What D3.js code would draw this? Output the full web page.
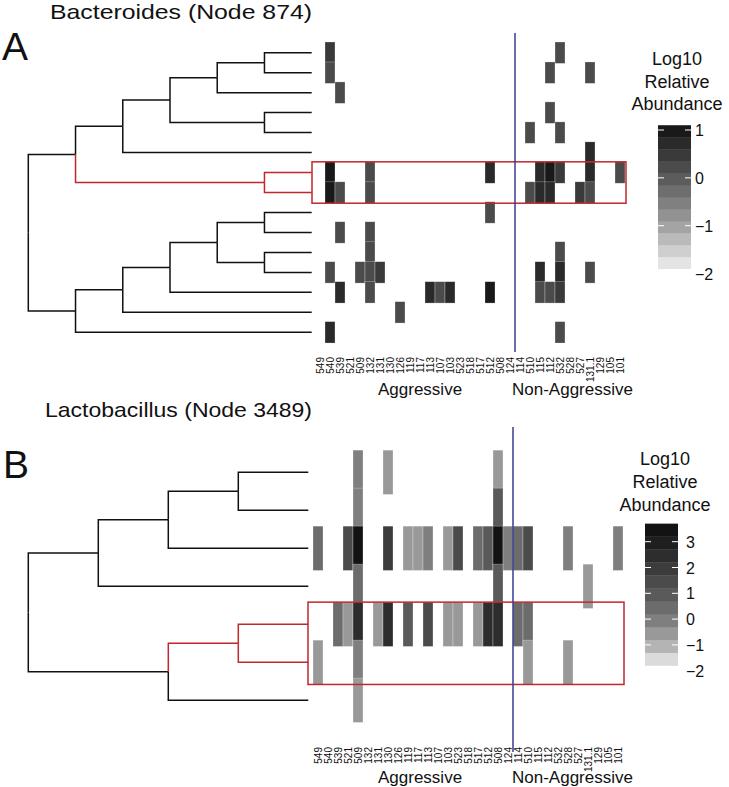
<!DOCTYPE html>
<html>
<head>
<meta charset="utf-8">
<script src="https://cdn.jsdelivr.net/npm/d3@7"></script>
<style>
  body { margin: 0; background: #fff; }
  text { font-family: "Liberation Sans", Arial, Helvetica, sans-serif; fill: #111; }
</style>
</head>
<body>
<div id="chart"></div>
<script>
// sample columns, left to right
var samples = ["549","540","539","521","509","132","131","130","126","119","117","113","107","103",
    "523","518","517","512","508","124","114","510","115","112","532","528","527","131.1","129","105","101"];
var groupLabels = ["Aggressive", "Non-Aggressive"];
var firstNonAggressive = "114";

// dendrograms: leaves are row numbers, top to bottom
var bactTree = [[[[[[1,2],3],[4,5]],6],[7,8]],[[[[[9,10],[11,12]],13],14],15]];
var bactHighlight = [7, 8];
// [row, sample, log10 relative abundance]
var bactCells = [
    [1,"540",0.5],[1,"532",0.3],
    [2,"540",0.2],[2,"112",0.3],[2,"131.1",0.3],
    [3,"539",0.3],
    [4,"112",0.3],
    [5,"510",0.3],[5,"532",0.3],
    [6,"131.1",0.8],
    [7,"540",1.0],[7,"132",0.3],[7,"512",0.8],[7,"115",0.8],[7,"112",0.9],[7,"532",0.5],[7,"131.1",0.8],[7,"101",0.2],
    [8,"540",0.9],[8,"539",0.3],[8,"132",0.3],[8,"510",0.3],[8,"115",0.8],[8,"112",0.6],[8,"527",0.5],[8,"131.1",0.2],
    [9,"512",0.3],
    [10,"539",0.3],[10,"132",0.3],
    [11,"132",0.3],[11,"532",0.3],
    [12,"540",0.3],[12,"509",0.3],[12,"132",0.2],[12,"131",0.5],[12,"115",0.8],[12,"532",0.6],[12,"131.1",0.3],
    [13,"539",0.8],[13,"132",0.3],[13,"113",0.8],[13,"107",0.3],[13,"103",0.6],[13,"512",0.9],[13,"115",0.3],[13,"112",0.2],[13,"532",0.5],
    [14,"126",0.3],
    [15,"540",0.6],[15,"532",0.3]
];
var bactTicks = [1, 0, -1, -2];

var lactoTree = [[[[1,2],3],4],[[5,6],7]];
var lactoHighlight = [5, 6];
var lactoCells = [
    [1,"509",0],[1,"130",-0.5],[1,"508",-0.5],
    [2,"509",0],[2,"508",0.8],
    [3,"549",0.5],[3,"521",1.5],[3,"509",3.5],[3,"130",1.8],[3,"119",-0.3],[3,"117",-0.3],[3,"113",0],
    [3,"103",-0.5],[3,"523",1.6],[3,"517",0.4],[3,"512",0.8],[3,"508",3.6],[3,"124",-0.2],[3,"114",0.5],
    [3,"510",1.3],[3,"528",-0.2],[3,"101",-0.2],
    [4,"509",0.5],[4,"508",1.0],[4,"131.1",-0.6],
    [5,"539",0.4],[5,"521",-0.5],[5,"509",2.5],[5,"131",-0.5],[5,"130",2.5],[5,"119",1],[5,"113",1.5],
    [5,"103",-0.5],[5,"523",-0.5],[5,"517",-0.5],[5,"512",2.2],[5,"508",2.2],[5,"114",0.5],[5,"510",0.5],
    [6,"549",-0.6],[6,"509",0],[6,"510",-0.6],[6,"528",-0.6],
    [7,"509",-0.6]
];
var lactoTicks = [3, 2, 1, 0, -1, -2];

var width = 729, height = 787;

var svg = d3.select("#chart").append("svg")
    .attr("width", width)
    .attr("height", height);

var panels = [
  {
    letter: "A", letterX: 2, letterY: 60,
    title: "Bacteroides (Node 874)", titleX: 50, titleY: 19, titleLen: 262,
    tree: bactTree, highlight: bactHighlight, cells: bactCells, ticks: bactTicks,
    treeLeft: 28.3, treeRight: 311.7, leafFirst: 42.7, leafLast: 342.3,
    heatX: [315, 625], boxX: [312, 626],
    lineTop: 33, lineBottom: 352,
    labelTop: 357, groupY: 395,
    legMin: -1.9, legMax: 1.1, legStep: 0.25,
    shadeDomain: [-1.9, -1, 0, 1.1], shadeRange: ["#efefef", "#a2a2a2", "#5a5a5a", "#111111"],
    legX: 658, legTicks: [1, -1], legTickY: [130, 225.7],
    legTitleX: 677, legTitleY: [65, 87.5, 110], legLabelX: 695
  },
  {
    letter: "B", letterX: 3, letterY: 478,
    title: "Lactobacillus (Node 3489)", titleX: 45, titleY: 417, titleLen: 267,
    tree: lactoTree, highlight: lactoHighlight, cells: lactoCells, ticks: lactoTicks,
    treeLeft: 28.3, treeRight: 308.3, leafFirst: 453.3, leafLast: 719.3,
    heatX: [313, 623], boxX: [308, 624],
    lineTop: 427, lineBottom: 752,
    labelTop: 747, groupY: 783,
    legMin: -1.8, legMax: 3.7, legStep: 0.5,
    shadeDomain: [-1.8, -1, 0, 1, 2, 3, 3.7],
    shadeRange: ["#eeeeee", "#b0b0b0", "#7c7c7c", "#585858", "#3a3a3a", "#1e1e1e", "#0d0d0d"],
    legX: 645, legTicks: [3, 1], legTickY: [541.7, 593.3],
    legTitleX: 665, legTitleY: [465, 488, 510.5], legLabelX: 686
  }
];

panels.forEach(drawPanel);

function drawPanel(p) {
  var g = svg.append("g");

  // dendrogram
  var root = d3.hierarchy(p.tree, function(d) { return Array.isArray(d) ? d : null; });
  d3.cluster()
      .separation(function() { return 1; })
      .size([p.leafLast - p.leafFirst, p.treeRight - p.treeLeft])(root);

  var leaves = root.leaves();
  var step = (p.leafLast - p.leafFirst) / (leaves.length - 1);
  var rowY = {};
  leaves.forEach(function(l) { rowY[l.data] = p.leafFirst + l.x; });

  function isRed(node) {
    return node.leaves().every(function(l) { return p.highlight.indexOf(l.data) >= 0; });
  }

  var links = root.links().sort(function(a, b) { return isRed(a.target) - isRed(b.target); });
  g.append("g")
      .attr("transform", "translate(" + p.treeLeft + "," + p.leafFirst + ")")
    .selectAll("path")
    .data(links)
    .join("path")
      .attr("fill", "none")
      .attr("stroke", function(d) { return isRed(d.target) ? "#c1272d" : "#111"; })
      .attr("stroke-width", 1.5)
      .attr("d", function(d) {
        return "M" + d.source.y + "," + d.source.x + "V" + d.target.x + "H" + d.target.y;
      });

  // heatmap
  var x = d3.scaleBand().domain(samples).range(p.heatX);

  var nBands = Math.round((p.legMax - p.legMin) / p.legStep);
  var shade = d3.scaleLinear().domain(p.shadeDomain).range(p.shadeRange);
  var bandColors = d3.range(nBands).map(function(i) {
    return shade(p.legMin + (i + 0.5) * p.legStep);
  });
  var color = d3.scaleQuantize().domain([p.legMin, p.legMax]).range(bandColors);

  g.append("g").selectAll("rect")
    .data(p.cells)
    .join("rect")
      .attr("x", function(d) { return x(d[1]); })
      .attr("y", function(d) { return rowY[d[0]] - step / 2; })
      .attr("width", x.bandwidth())
      .attr("height", step)
      .attr("fill", function(d) { return color(d[2]); })
      .attr("stroke", "#fff")
      .attr("stroke-opacity", 0.45)
      .attr("stroke-width", 0.6);

  // highlight box
  var hy = p.highlight.map(function(r) { return rowY[r]; });
  g.append("rect")
      .attr("x", p.boxX[0])
      .attr("y", d3.min(hy) - step / 2)
      .attr("width", p.boxX[1] - p.boxX[0])
      .attr("height", d3.max(hy) - d3.min(hy) + step)
      .attr("fill", "none")
      .attr("stroke", "#c1272d")
      .attr("stroke-width", 1.5);

  // group divider
  var divX = x(firstNonAggressive);
  g.append("line")
      .attr("x1", divX).attr("x2", divX)
      .attr("y1", p.lineTop).attr("y2", p.lineBottom)
      .attr("stroke", "#3b3b8f")
      .attr("stroke-width", 1.5);

  // sample labels
  g.append("g").selectAll("text")
    .data(samples)
    .join("text")
      .attr("transform", function(d) {
        return "translate(" + (x(d) + x.bandwidth() / 2 + 3.5) + "," + p.labelTop + ") rotate(-90)";
      })
      .attr("text-anchor", "end")
      .style("font-size", "10px")
      .text(function(d) { return d; });

  g.append("text")
      .attr("x", 378).attr("y", p.groupY)
      .style("font-size", "17px")
      .text(groupLabels[0]);
  g.append("text")
      .attr("x", 512).attr("y", p.groupY)
      .style("font-size", "17px")
      .text(groupLabels[1]);

  // titles
  g.append("text")
      .attr("x", p.titleX).attr("y", p.titleY)
      .attr("textLength", p.titleLen)
      .attr("lengthAdjust", "spacingAndGlyphs")
      .style("font-size", "21px")
      .text(p.title);
  g.append("text")
      .attr("x", p.letterX).attr("y", p.letterY)
      .style("font-size", "39px")
      .text(p.letter);

  // legend
  var ly = d3.scaleLinear().domain(p.legTicks).range(p.legTickY);
  var legW = 33;
  var leg = g.append("g");
  leg.selectAll("rect")
    .data(bandColors)
    .join("rect")
      .attr("x", p.legX)
      .attr("y", function(d, i) { return ly(p.legMin + (i + 1) * p.legStep); })
      .attr("width", legW)
      .attr("height", function(d, i) {
        return ly(p.legMin + i * p.legStep) - ly(p.legMin + (i + 1) * p.legStep) + 0.3;
      })
      .attr("fill", function(d) { return d; });

  var inBar = p.ticks.filter(function(t) { return t > p.legMin && t < p.legMax; });
  leg.selectAll("line.tl")
    .data(inBar)
    .join("line")
      .attr("x1", p.legX).attr("x2", p.legX + 6)
      .attr("y1", ly).attr("y2", ly)
      .attr("stroke", "#fff").attr("stroke-width", 1);
  leg.selectAll("line.tr")
    .data(inBar)
    .join("line")
      .attr("x1", p.legX + legW - 6).attr("x2", p.legX + legW)
      .attr("y1", ly).attr("y2", ly)
      .attr("stroke", "#fff").attr("stroke-width", 1);

  var fmt = d3.format("d");
  leg.selectAll("text.tick")
    .data(p.ticks)
    .join("text")
      .attr("x", p.legLabelX)
      .attr("y", function(d) { return ly(d) + 6; })
      .style("font-size", "16px")
      .text(fmt);

  leg.selectAll("text.title")
    .data(["Log10", "Relative", "Abundance"])
    .join("text")
      .attr("x", p.legTitleX)
      .attr("y", function(d, i) { return p.legTitleY[i]; })
      .attr("text-anchor", "middle")
      .style("font-size", "18px")
      .text(function(d) { return d; });
}
</script>
</body>
</html>
